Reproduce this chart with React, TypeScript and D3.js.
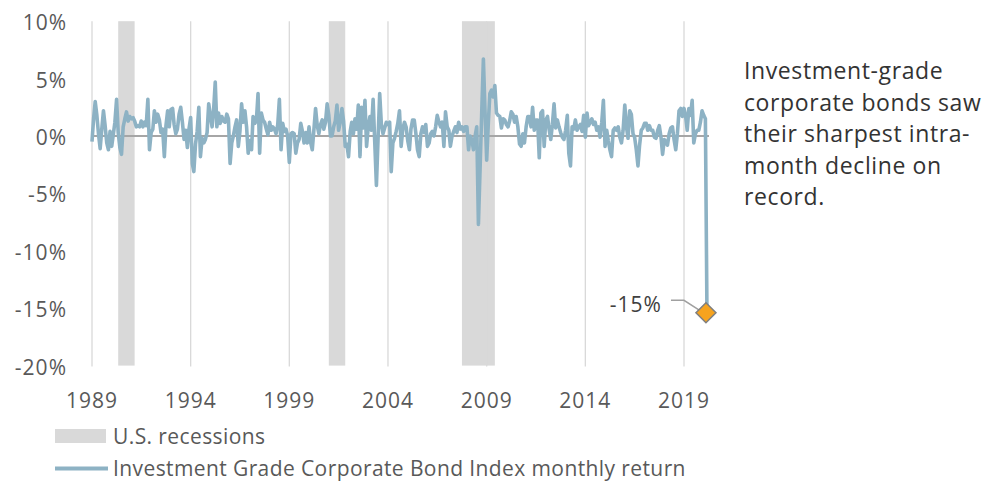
import React from 'react';
import * as d3 from 'd3';

// monthly returns (%) starting Jan 1989
const returns1989to1998 = [
  -0.5, 1.6, 3.0, 1.8, 0.2, -1.1, 0.6, 2.2, 0.9, -0.6, -1.2, 0.4, // 1989
  -0.9, 0.2, 1.2, 3.2, 0.3, -1.0, -1.6, 0.8, 1.5, 2.1, 1.3, 1.7, // 1990
  1.5, 1.6, 1.3, 0.8, 0.9, 0.8, 1.3, 0.8, 1.2, 0.9, 3.2, -1.2, // 1991
  0.3, 0.6, 2.2, 1.2, 1.9, 1.4, 0.3, 0.6, -1.8, 0.9, 2.2, 0.8, // 1992
  2.3, 2.4, 1.0, 0.2, 0.6, 1.9, 2.5, 1.2, -0.3, 0.5, -1.0, 0.6, // 1993
  1.6, -2.4, -3.1, -0.7, 0.4, 2.5, -1.8, -0.2, -0.6, -0.3, 0.3, 2.8, // 1994
  1.8, 0.8, 2.2, 4.7, 0.8, 2.0, 1.1, 1.7, 1.3, 1.2, 1.9, 1.5, // 1995
  -2.4, -0.6, 0.0, 0.8, 1.4, -0.9, 0.4, 2.8, 1.2, 2.2, 0.8, -1.5, // 1996
  -0.4, -1.2, 1.7, 1.1, 1.3, 3.7, -1.5, 2.0, 1.4, 1.2, 0.6, 0.1, // 1997
  1.2, 0.5, 0.8, 0.6, 0.2, 1.0, 3.2, -1.2, 1.1, 0.4, 0.6, 0.0, // 1998
];
const returns1999to2008 = [
  -2.3, 0.2, 0.3, 0.2, -1.5, -0.6, -0.3, 1.1, 0.4, -0.6, 0.3, -0.6, // 1999
  0.8, -0.6, -1.2, 0.6, 2.4, 0.9, 0.2, 1.0, 1.4, 0.6, 1.2, 2.8, // 2000
  1.8, 0.0, 0.0, 0.8, 1.3, 2.7, 0.5, 1.2, 2.4, 1.3, -0.9, -0.7, // 2001
  -1.8, 0.4, 1.2, 0.2, 1.5, 0.6, 2.7, -1.8, 2.5, 0.7, 3.1, -0.9, // 2002
  0.8, 1.7, 0.5, 3.2, -0.5, -4.3, -0.3, 3.7, 1.0, 0.2, 0.7, 1.2, // 2003
  1.0, 1.2, -3.1, -0.6, -0.2, 0.4, 1.1, 2.2, -0.9, 0.6, 1.2, 0.8, // 2004
  -0.4, -1.2, 0.6, 1.4, 1.4, 0.2, -1.2, -1.8, 0.2, 0.8, 0.3, 1.0, // 2005
  -0.9, -0.6, 0.2, 0.4, 0.0, 0.8, 1.8, 1.2, 0.8, 1.2, -0.9, 2.1, // 2006
  0.8, 0.5, -0.9, 0.0, 0.4, 0.8, 0.3, 1.2, 0.6, 0.8, 0.4, 0.8, // 2007
  0.8, -1.2, 0.0, -0.3, -1.2, 0.0, 0.8, -7.7, -2.8, 2.0, 6.7, 2.2, // 2008
];
const returns2009to2020 = [
  -2.1, 1.2, 3.7, 4.0, 3.4, 4.4, 2.0, 1.8, 1.7, 0.7, 1.5, 1.4, // 2009
  1.0, 0.8, 1.3, 2.1, 1.9, 1.2, 1.7, 0.8, -0.7, -0.9, 0.2, -0.6, // 2010
  0.8, 1.7, 1.7, 0.8, 2.5, 0.5, 1.4, 1.4, -1.9, 2.0, 2.2, -0.9, // 2011
  1.4, 1.7, 0.6, -0.3, 1.0, 2.8, 0.7, 1.4, 0.8, 0.3, -0.1, -0.3, // 2012
  0.5, 1.8, -1.5, -2.6, 0.8, 0.6, 1.4, 0.5, 0.8, 1.0, 0.4, 1.8, // 2013
  -0.1, 2.0, 0.9, 1.2, 1.5, 1.0, 1.2, 0.5, 0.8, -0.1, 1.2, 3.1, // 2014
  -0.9, 0.5, -0.4, -1.2, -1.8, 0.5, 0.7, 0.5, 0.8, -0.1, -0.6, 0.5, // 2015
  2.7, 0.8, -0.2, 2.2, 1.9, 0.2, -0.1, -1.2, -2.6, -0.8, 0.5, 0.7, // 2016
  1.1, 1.1, 0.5, 0.9, 0.5, 0.5, -0.1, -0.2, 0.5, 0.9, -0.1, -1.6, // 2017
  -0.3, -0.5, -0.8, 0.2, 0.7, 0.8, -0.3, -1.2, 0.2, 2.2, 2.4, 1.7, // 2018
  2.4, 1.7, 0.5, 2.4, 1.8, 3.1, -0.6, 0.2, 0.5, 0.5, 1.2, 2.2, // 2019
  1.8, 1.5, -15.4, // 2020
];

const yTicks = [10, 5, 0, -5, -10, -15, -20];
const xTickYears = [1989, 1994, 1999, 2004, 2009, 2014, 2019];
const recessionStarts = ['1990-05', '2001-01', '2007-10'];
const recessionEnds = ['1991-03', '2001-11', '2009-06'];
const noteLines = [
  'Investment-grade',
  'corporate bonds saw',
  'their sharpest intra-',
  'month decline on',
  'record.',
];
const lastLabel = '-15%';

const LINE_COLOR = '#8db2c4';
const BAND_COLOR = '#d9d9d9';
const TEXT_COLOR = '#595959';
const FONT = "'Open Sans', 'Noto Sans', sans-serif";

const parseMonth = d3.timeParse('%Y-%m');

export default function App() {
  const width = 989;
  const height = 483;

  const allReturns = returns1989to1998.concat(returns1999to2008, returns2009to2020);
  const data = allReturns.map((v, i) => ({ date: new Date(1989, i, 1), value: v }));

  const x = d3
    .scaleTime()
    .domain([new Date(1989, 0, 1), new Date(2019, 0, 1)])
    .range([92, 684]);
  const y = d3.scaleLinear().domain([-20, 10]).range([365.6, 21.2]);

  const line = d3
    .line<{ date: Date; value: number }>()
    .x((d) => x(d.date))
    .y((d) => y(d.value));

  const last = data[data.length - 1];
  const lx = x(last.date) - 1;
  const ly = y(last.value);
  const r = 10;

  return (
    <svg
      width={width}
      height={height}
      style={{ position: 'absolute', left: 0, top: 0, display: 'block', background: '#fff' }}
      fontFamily={FONT}
    >
      {/* recession bands */}
      {recessionStarts.map((s, i) => {
        const x0 = x(parseMonth(s)!);
        const x1 = x(parseMonth(recessionEnds[i])!);
        return (
          <rect key={s} x={x0} y={y(10)} width={x1 - x0} height={y(-20) - y(10)} fill={BAND_COLOR} />
        );
      })}

      {/* vertical gridlines */}
      {xTickYears.map((yr) => (
        <line
          key={yr}
          x1={x(new Date(yr, 0, 1))}
          x2={x(new Date(yr, 0, 1))}
          y1={y(10)}
          y2={y(-20) + 1}
          stroke="#d9d9d9"
          strokeWidth={1.3}
        />
      ))}

      {/* y tick labels */}
      {yTicks.map((t) => (
        <text key={t} x={67} y={y(t) + 9} textAnchor="end" fontSize={21} letterSpacing={1} fill={TEXT_COLOR}>
          {t + '%'}
        </text>
      ))}

      {/* x tick labels */}
      {xTickYears.map((yr) => (
        <text
          key={yr}
          x={x(new Date(yr, 0, 1))}
          y={408}
          textAnchor="middle"
          fontSize={21}
          letterSpacing={1}
          fill={TEXT_COLOR}
        >
          {yr}
        </text>
      ))}

      {/* zero line */}
      <line x1={92} x2={709} y1={y(0)} y2={y(0)} stroke="#a6a6a6" strokeWidth={2} />

      {/* returns */}
      <path d={line(data) || ''} fill="none" stroke={LINE_COLOR} strokeWidth={3.6} strokeLinejoin="round" />

      {/* callout for the last month */}
      <path d={`M${lx - 35},${ly - 12.5} H${lx - 22} L${lx - 4},${ly - 1}`} fill="none" stroke="#a0a0a0" strokeWidth={1.5} />
      <path
        d={`M${lx},${ly - r} L${lx + r},${ly} L${lx},${ly + r} L${lx - r},${ly} Z`}
        fill="#f6a31e"
        stroke="#7f7f7f"
        strokeWidth={1.5}
      />
      <text x={lx - 44} y={ly - 1} textAnchor="end" fontSize={21} letterSpacing={1} fill="#404040">
        {lastLabel}
      </text>

      {/* note */}
      {noteLines.map((t, i) => (
        <text key={t} x={744} y={79 + i * 31.5} fontSize={23} letterSpacing={0.6} fill="#333">
          {t}
        </text>
      ))}

      {/* legend */}
      <rect x={55} y={429} width={51} height={14} fill={BAND_COLOR} />
      <text x={113} y={444} fontSize={21} letterSpacing={0.4} fill={TEXT_COLOR}>
        U.S. recessions
      </text>
      <line x1={55} x2={108} y1={468.5} y2={468.5} stroke={LINE_COLOR} strokeWidth={4} />
      <text x={113} y={476} fontSize={21} letterSpacing={0.4} fill={TEXT_COLOR}>
        Investment Grade Corporate Bond Index monthly return
      </text>
    </svg>
  );
}
